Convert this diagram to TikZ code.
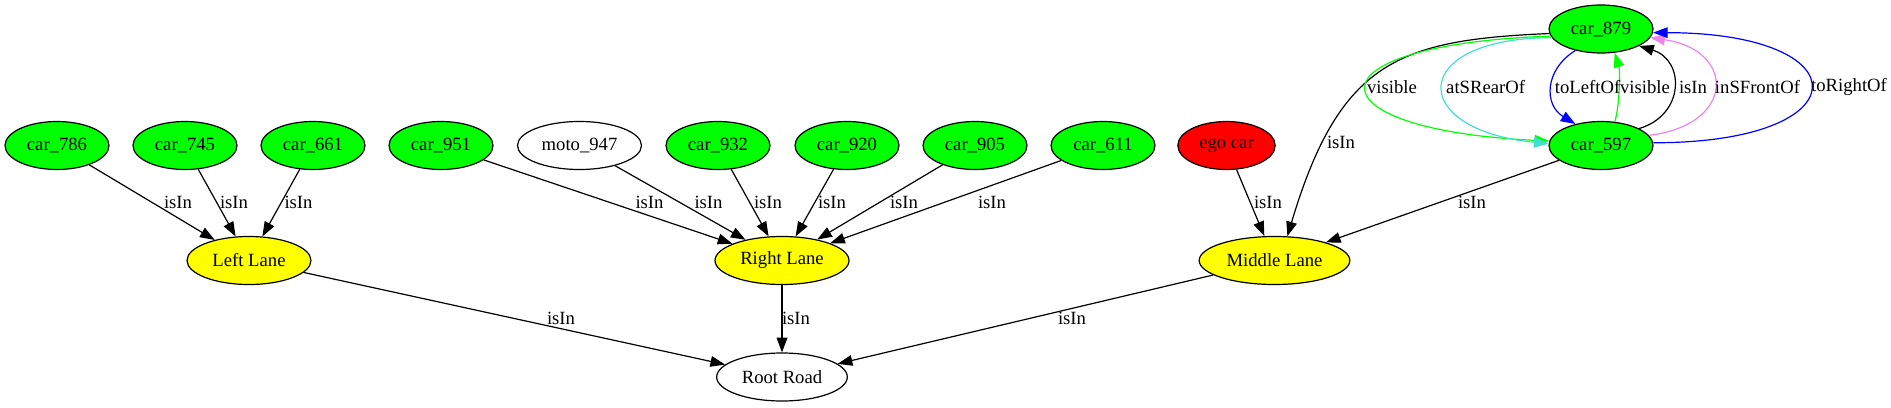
\documentclass[tikz,border=0pt]{standalone}
\usepackage{fontspec}
\setmainfont{Liberation Serif}
\usetikzlibrary{shapes.geometric,arrows.meta}
\definecolor{gvgreen}{HTML}{00FF00}
\definecolor{gvred}{HTML}{FF0000}
\definecolor{gvyellow}{HTML}{FFFF00}
\definecolor{gvturq}{HTML}{40E0D0}
\definecolor{gvviolet}{HTML}{EE82EE}
\definecolor{gvblue}{HTML}{0000FF}
\begin{document}
\begin{tikzpicture}[x=0.75pt,y=-0.75pt,
    every node/.style={font=\fontsize{14}{16}\selectfont},
    obj/.style={ellipse,draw,line width=0.9pt,minimum height=36pt,inner sep=0pt},
    car/.style={obj,fill=gvgreen,minimum width=78pt},
    lane/.style={obj,fill=gvyellow},
    rel/.style={line width=0.9pt,-{Triangle[length=11pt,width=8pt]}},
    lbl/.style={inner sep=0pt}]
    \useasboundingbox (0,0) rectangle (1891,407);
    %vehicles
    \node[car] (c786) at (57,145.5) {car\_786};
    \node[car] (c745) at (185,145.5) {car\_745};
    \node[car] (c661) at (313,145.5) {car\_661};
    \node[car] (c951) at (441,145.5) {car\_951};
    \node[obj,minimum width=93pt] (m947) at (579.5,145.5) {moto\_947};
    \node[car] (c932) at (718,145.5) {car\_932};
    \node[car] (c920) at (847,145.5) {car\_920};
    \node[car] (c905) at (975,145.5) {car\_905};
    \node[car] (c611) at (1103,145.5) {car\_611};
    \node[obj,fill=gvred,minimum width=73pt] (ego) at (1226.5,145.5) {ego car};
    \node[car] (c879) at (1601,29) {car\_879};
    \node[car] (c597) at (1601,145.5) {car\_597};
    %lanes
    \node[lane,minimum width=93pt] (ll) at (249,260.5) {Left Lane};
    \node[lane,minimum width=100.5pt] (rl) at (782,260.5) {Right Lane};
    \node[lane,minimum width=113pt] (ml) at (1274.5,260.5) {Middle Lane};
    \node[obj,minimum width=98pt] (road) at (782,377) {Root Road};
    %left lane
    \draw[rel] (c786) -- (ll);
    \draw[rel] (c745) -- (ll);
    \draw[rel] (c661) -- (ll);
    \node[lbl] (l786) at (178,202) {isIn};
    \node[lbl] (l745) at (234,202) {isIn};
    \node[lbl] (l661) at (298.5,202) {isIn};
    %right lane
    \draw[rel] (c951) -- (rl);
    \draw[rel] (m947) -- (rl);
    \draw[rel] (c932) -- (rl);
    \draw[rel] (c920) -- (rl);
    \draw[rel] (c905) -- (rl);
    \draw[rel] (c611) -- (rl);
    \node[lbl] (l951) at (649.5,202) {isIn};
    \node[lbl] (l947) at (708.5,202) {isIn};
    \node[lbl] (l932) at (768,202) {isIn};
    \node[lbl] (l920) at (832,202) {isIn};
    \node[lbl] (l905) at (904,202) {isIn};
    \node[lbl] (l611) at (992,202) {isIn};
    %middle lane
    \draw[rel] (ego) -- (ml);
    \draw[rel] (c597) -- (ml);
    \draw[rel] (c879.185) .. controls (1400,40) and (1340,60) .. (ml.62);
    \node[lbl] (lego) at (1268,202) {isIn};
    \node[lbl] (l597) at (1472,202) {isIn};
    \node[lbl] (l879) at (1341,142) {isIn};
    %road
    \draw[rel] (ll) -- (road);
    \draw[rel] (rl) -- (road);
    \draw[rel] (ml) -- (road);
    \node[lbl] (lll) at (561,318.5) {isIn};
    \node[lbl] (lrl) at (796,318.5) {isIn};
    \node[lbl] (lml) at (1072,318.5) {isIn};
    %car_879 <-> car_597
    \draw[rel,gvgreen] (c879.188) .. controls (1300,45) and (1310,130) .. (c597.175);
    \draw[rel,gvturq] (c879.190) .. controls (1407,38) and (1407,130) .. (c597.178);
    \draw[rel,gvblue] (c879.220) .. controls (1544,70) and (1544,105) .. (c597.140);
    \draw[rel,gvgreen] (c597.60) .. controls (1620,105) and (1620,70) .. (c879.-60);
    \draw[rel] (c597.24) .. controls (1685,115) and (1685,60) .. (c879.-24);
    \draw[rel,gvviolet] (c597.12) .. controls (1736,125) and (1736,50) .. (c879.-10);
    \draw[rel,gvblue] (c597.3) .. controls (1863,143) and (1863,33) .. (c879.-4);
    \node[lbl] (v1) at (1392,87) {visible};
    \node[lbl] (rear) at (1485.6,87) {atSRearOf};
    \node[lbl] (left) at (1587.6,87) {toLeftOf};
    \node[lbl] (v2) at (1645,87) {visible};
    \node[lbl] (isin) at (1693,87) {isIn};
    \node[lbl] (front) at (1757.5,87) {inSFrontOf};
    \node[lbl] (right) at (1849,87) {toRightOf};
\end{tikzpicture}
\end{document}
